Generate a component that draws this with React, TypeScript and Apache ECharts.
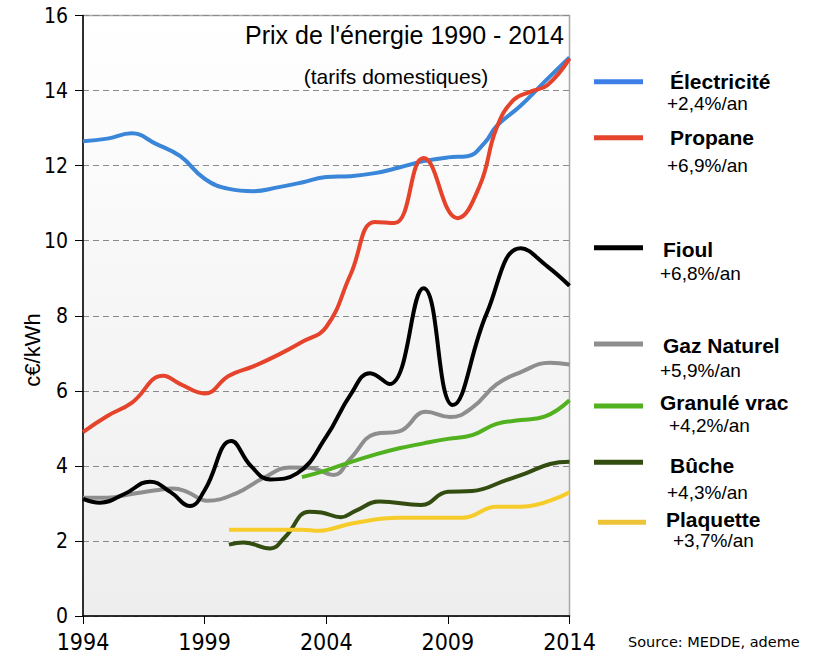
import React, { useEffect, useRef } from "react";
import * as echarts from "echarts";

const xTicks = [1994, 1999, 2004, 2009, 2014];

const elecYears = [1994, 1995, 1996, 1997, 1998, 1999, 2000, 2001, 2002, 2003, 2004, 2005, 2006, 2007, 2008, 2009, 2009.8, 2010.5, 2011, 2012, 2013, 2014];
const elecValues = [12.65, 12.72, 12.86, 12.58, 12.25, 11.65, 11.38, 11.32, 11.42, 11.55, 11.7, 11.72, 11.8, 11.95, 12.12, 12.22, 12.25, 12.6, 13.05, 13.6, 14.25, 14.88];

const propYears = [1994, 1995, 1996, 1997.3, 1998, 1999, 2000, 2001, 2002, 2003, 2004, 2005, 2006, 2006.8, 2008, 2009.4, 2010.3, 2011, 2011.7, 2012.4, 2013.1, 2014];
const propValues = [4.9, 5.33, 5.68, 6.4, 6.18, 5.93, 6.4, 6.65, 6.95, 7.3, 7.7, 9.1, 10.5, 10.47, 12.2, 10.6, 11.45, 13.0, 13.75, 13.97, 14.15, 14.85];

const fiouYears = [1994, 1994.7, 1995.7, 1996.75, 1997.6, 1998.4, 1999, 2000.1, 2000.9, 2001.7, 2002.8, 2004, 2005, 2005.8, 2006.6, 2008, 2009.2, 2010.6, 2012, 2013.1, 2014];
const fiouValues = [3.12, 3.02, 3.25, 3.58, 3.3, 2.93, 3.35, 4.66, 4.0, 3.64, 3.8, 4.78, 5.9, 6.47, 6.18, 8.73, 5.62, 8.07, 9.8, 9.31, 8.8];

const gazYears = [1994, 1995, 1996, 1997, 1997.7, 1998.3, 1999.1, 2000.3, 2001.4, 2002.5, 2003.3, 2004.3, 2005, 2006, 2007, 2008.1, 2009.1, 2010, 2011, 2012, 2013.2, 2014];
const gazValues = [3.15, 3.15, 3.25, 3.35, 3.4, 3.3, 3.07, 3.27, 3.67, 3.96, 3.95, 3.76, 4.2, 4.85, 4.92, 5.44, 5.3, 5.55, 6.17, 6.5, 6.75, 6.7];

const granYears = [2003, 2004, 2005, 2006, 2007, 2008, 2009, 2010, 2011, 2012, 2013, 2014];
const granValues = [3.7, 3.88, 4.1, 4.3, 4.47, 4.6, 4.72, 4.82, 5.12, 5.22, 5.32, 5.75];

const bucheYears = [2000, 2000.6, 2001.7, 2002.3, 2003.3, 2003.8, 2004.6, 2005.2, 2006.2, 2007.9, 2009, 2010, 2011.4, 2012.2, 2013.2, 2014];
const bucheValues = [1.9, 1.96, 1.8, 2.1, 2.78, 2.76, 2.63, 2.8, 3.05, 2.96, 3.31, 3.33, 3.62, 3.8, 4.05, 4.11];

const plaqYears = [2000, 2001, 2002, 2003, 2003.7, 2004.2, 2005.1, 2007, 2009.6, 2011, 2012, 2014];
const plaqValues = [2.3, 2.3, 2.3, 2.3, 2.27, 2.32, 2.47, 2.62, 2.62, 2.91, 2.91, 3.3];

const seriesNames = ["Électricité", "Propane", "Fioul", "Gaz Naturel", "Granulé vrac", "Bûche", "Plaquette"];
const seriesRates = ["+2,4%/an", "+6,9%/an", "+6,8%/an", "+5,9%/an", "+4,2%/an", "+4,3%/an", "+3,7%/an"];
const seriesColors = ["#3a86d8", "#e5432b", "#000000", "#8e8e8e", "#52b11f", "#334c10", "#f6cc2a"];

const pair = (xs: number[], ys: number[]) => xs.map((x, i) => [x, ys[i]]);

const SANS = '"Liberation Sans", Arial, sans-serif';
const TICKF = '"DejaVu Sans Condensed", "DejaVu Sans", sans-serif';

export default function App() {
  const ref = useRef<HTMLDivElement>(null);
  useEffect(() => {
    const chart = echarts.init(ref.current!, null, { renderer: "svg" });

    const data = [
      pair(elecYears, elecValues),
      pair(propYears, propValues),
      pair(fiouYears, fiouValues),
      pair(gazYears, gazValues),
      pair(granYears, granValues),
      pair(bucheYears, bucheValues),
      pair(plaqYears, plaqValues),
    ];
    const drawOrder = [3, 4, 5, 6, 0, 1, 2];

    const legLines = [81.7, 137.7, 247.7, 344, 406, 462.3, 522.3];
    const legLineX = [[594, 643], [594, 643], [594, 643], [594, 643], [594, 643], [594, 643], [598, 646]];
    const legNamePos = [[670, 81], [670, 137], [663, 249], [663, 345.5], [660, 402.5], [670, 465], [666, 519]];
    const legRatePos = [[667, 103.5], [667, 165], [660, 273], [660, 370], [669, 425.5], [667, 492.5], [673, 540]];
    const legColors = ["#3d7fe6", "#e5432b", "#000000", "#8e8e8e", "#52b11f", "#334c10", "#efc338"];

    const txt = (text: string, x: number, y: number, font: string, align = "left", extra: any = {}) => ({
      type: "text",
      x,
      y,
      ...extra,
      style: {
        text,
        font,
        fill: "#000",
        align,
        textAlign: align,
        verticalAlign: "middle",
        textVerticalAlign: "middle",
      },
    });

    const graphics: any[] = [];
    seriesNames.forEach((n, i) => {
      graphics.push({
        type: "line",
        shape: { x1: legLineX[i][0], y1: legLines[i], x2: legLineX[i][1], y2: legLines[i] },
        style: { stroke: legColors[i], lineWidth: 5 },
      });
      graphics.push(txt(n, legNamePos[i][0], legNamePos[i][1], `bold 21px ${SANS}`));
      graphics.push(txt(seriesRates[i], legRatePos[i][0], legRatePos[i][1], `19px ${SANS}`));
    });
    graphics.push(txt("Prix de l'énergie 1990 - 2014", 245, 35, `25px ${SANS}`));
    graphics.push(txt("(tarifs domestiques)", 396, 76.5, `21px ${SANS}`, "center"));
    graphics.push(txt("Source: MEDDE, ademe", 628, 641.5, `14.5px "DejaVu Sans", sans-serif`));
    graphics.push(txt("c€/kWh", 32, 350, `22px ${SANS}`, "center", { rotation: Math.PI / 2 }));

    chart.setOption({
      animation: false,
      backgroundColor: "#ffffff",
      grid: {
        left: 83,
        right: 243.5,
        top: 15.5,
        bottom: 39,
        show: true,
        borderColor: "#a8a8a8",
        borderWidth: 1.5,
        backgroundColor: {
          type: "linear",
          x: 0,
          y: 0,
          x2: 0,
          y2: 1,
          colorStops: [
            { offset: 0, color: "#ffffff" },
            { offset: 0.5, color: "#f6f6f6" },
            { offset: 1, color: "#eeeeee" },
          ],
        },
      },
      xAxis: {
        type: "value",
        min: 1994,
        max: 2014,
        axisLine: { show: true, onZero: false, lineStyle: { color: "#000", width: 1.5 } },
        axisTick: { show: true, length: 8, customValues: xTicks, lineStyle: { color: "#000", width: 1 } },
        axisLabel: {
          customValues: xTicks,
          formatter: (v: number) => String(v),
          fontFamily: TICKF,
          fontSize: 23,
          color: "#000",
          margin: 14,
        },
        splitLine: { show: false },
      },
      yAxis: {
        type: "value",
        min: 0,
        max: 16,
        interval: 2,
        axisLine: { show: true, lineStyle: { color: "#000", width: 1.5 } },
        axisTick: { show: true, length: 8, lineStyle: { color: "#000", width: 1 } },
        axisLabel: { fontFamily: TICKF, fontSize: 21, color: "#000", margin: 15 },
        splitLine: { show: true, lineStyle: { type: [6, 4], color: "#8a8a8a", width: 1 } },
      },
      series: drawOrder.map((i) => ({
        name: seriesNames[i],
        type: "line",
        data: data[i],
        smooth: 0.45,
        showSymbol: false,
        symbol: "none",
        lineStyle: { color: seriesColors[i], width: 4 },
        itemStyle: { color: seriesColors[i] },
        z: 3,
      })),
      graphic: graphics,
    });
    return () => chart.dispose();
  }, []);
  return (
    <div
      ref={ref}
      style={{ position: "fixed", left: 0, top: 0, width: 813, height: 655, background: "#fff" }}
    />
  );
}
